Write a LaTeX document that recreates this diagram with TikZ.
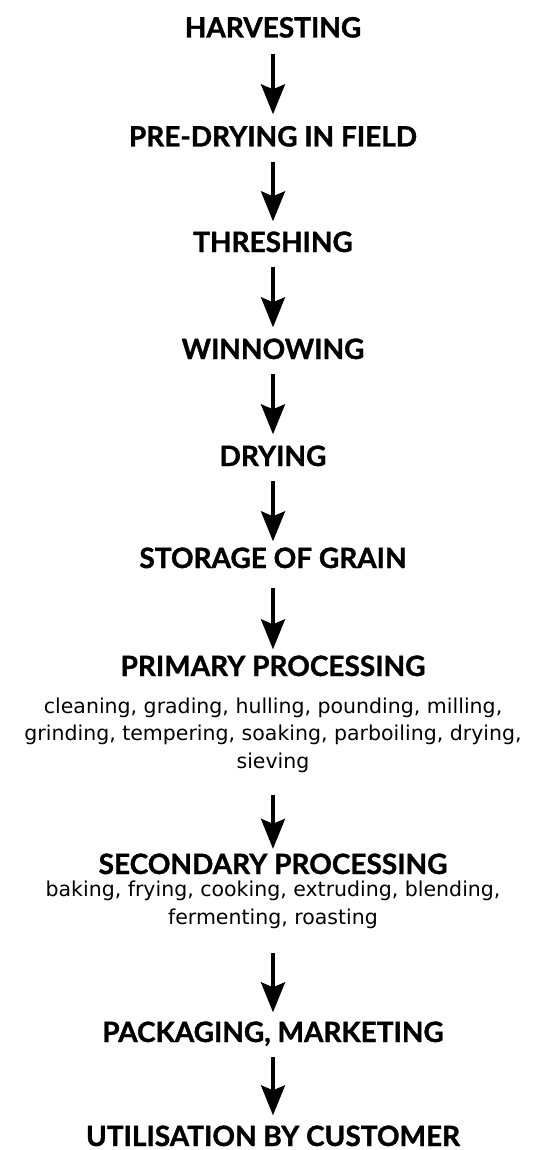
\documentclass[tikz,border=0pt]{standalone}
\usepackage{fontspec}
\setmainfont{Lato}
\newfontfamily\headfont{Lato}[BoldFeatures={FakeBold=1.2}]
\newfontfamily\bodyfont{DejaVu Sans}
\usetikzlibrary{arrows.meta}
\begin{document}
\begin{tikzpicture}[x=1pt,y=-1pt,
  head/.style={font=\headfont\fontsize{28}{32}\selectfont\bfseries, inner sep=0pt, text height=20pt, text depth=0pt, anchor=center},
  body/.style={font=\bodyfont\fontsize{20.5}{27.5}\selectfont, align=center, inner sep=0pt, anchor=base},
  flow/.style={line width=3.5pt, -{Stealth[length=30pt,width=24pt,inset=5pt]}, shorten <=15pt, shorten >=10.5pt}]
\useasboundingbox (0,0) rectangle (545,1150);
\node[head] (h1) at (273,27.5) {HARVESTING};
\node[head] (h2) at (273,136.5) {PRE-DRYING IN FIELD};
\node[head] (h3) at (273,242) {THRESHING};
\node[head] (h4) at (273,349) {WINNOWING};
\node[head] (h5) at (273,456) {DRYING};
\node[head] (h6) at (273,558) {STORAGE OF GRAIN};
\node[head] (h7) at (273,666) {PRIMARY PROCESSING};
\node[body] (b7) at (273,768) {cleaning, grading, hulling, pounding, milling,\\grinding, tempering, soaking, parboiling, drying,\\sieving};
\node[head] (h8) at (273,864) {SECONDARY PROCESSING};
\node[body] (b8) at (273,924) {baking, frying, cooking, extruding, blending,\\fermenting, roasting};
\node[head] (h9) at (273,1032) {PACKAGING, MARKETING};
\node[head] (h10) at (273,1136) {UTILISATION BY CUSTOMER};
\draw[flow, shorten <=16pt, shorten >=12pt] (h1) -- (h2);
\draw[flow] (h2) -- (h3);
\draw[flow, shorten >=11.5pt] (h3) -- (h4);
\draw[flow, shorten >=11.5pt] (h4) -- (h5);
\draw[flow, shorten >=6.5pt] (h5) -- (h6);
\draw[flow, shorten <=19.5pt, shorten >=6.5pt] (h6) -- (h7);
\draw[flow, shorten <=23pt, shorten >=5pt] (b7) -- (h8);
\draw[flow, shorten <=25pt, shorten >=9.5pt] (b8) -- (h9);
\draw[flow] (h9) -- (h10);
\end{tikzpicture}
\end{document}
